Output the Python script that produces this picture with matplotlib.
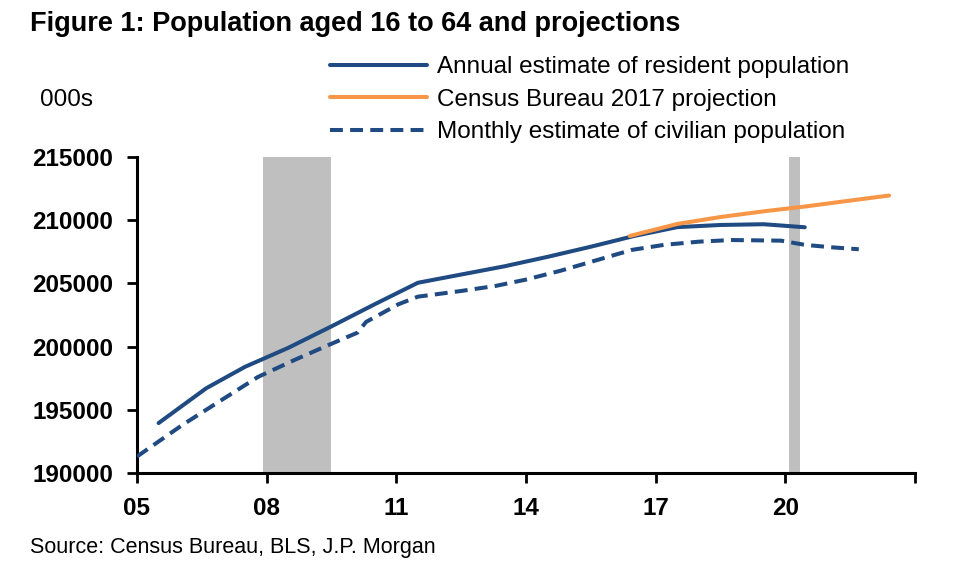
import matplotlib
matplotlib.use("Agg")
import matplotlib.pyplot as plt

# Annual estimate of resident population (000s), mid-year points
annual_x = [2005.5, 2006.6, 2007.5, 2008.5, 2009.5, 2010.5, 2011.5, 2012.5,
            2013.5, 2014.5, 2015.5, 2016.5, 2017.5, 2018.5, 2019.5, 2020.45]
annual_y = [193950, 196700, 198400, 199900, 201600, 203350, 205050, 205700,
            206350, 207100, 207900, 208750, 209450, 209620, 209680, 209440]

# Census Bureau 2017 projection
proj_x = [2016.4, 2017.5, 2018.5, 2019.5, 2020.5, 2021.5, 2022.4]
proj_y = [208750, 209700, 210250, 210700, 211100, 211550, 211950]

# Monthly estimate of civilian population (smoothed read-off)
monthly_x = [2005.0, 2006.05, 2006.9, 2007.8, 2008.65, 2009.45, 2010.1, 2010.3,
             2011.05, 2011.5, 2011.95, 2012.5, 2013.3, 2014.0, 2014.8, 2015.65,
             2016.45, 2017.2, 2018.0, 2018.75, 2019.9, 2020.45, 2021.05, 2021.7]
monthly_y = [191300, 193800, 195650, 197600, 198950, 200150, 201100, 201950,
             203350, 203950, 204150, 204400, 204800, 205300, 206000, 206850,
             207650, 208050, 208300, 208430, 208380, 208050, 207860, 207700]

recessions = [(2007.92, 2009.5), (2020.08, 2020.33)]

xticks = [2005, 2008, 2011, 2014, 2017, 2020, 2023]
xlabels = ["05", "08", "11", "14", "17", "20", ""]
yticks = [190000, 195000, 200000, 205000, 210000, 215000]

navy = "#1F4A82"
orange = "#F79646"
plt.rcParams["font.family"] = ["Liberation Sans", "DejaVu Sans"]

fig = plt.figure(figsize=(9.6, 5.75), dpi=100)
ax = fig.add_axes([0.1427, 0.1774, 0.9531 - 0.1427, 0.5496])

for a, b in recessions:
    ax.axvspan(a, b, color="#BFBFBF", lw=0, zorder=0)

ax.plot(annual_x, annual_y, color=navy, lw=2.9, solid_capstyle="round",
        label="Annual estimate of resident population", zorder=3)
ax.plot(proj_x, proj_y, color=orange, lw=2.9, solid_capstyle="round",
        label="Census Bureau 2017 projection", zorder=4)
ax.plot(monthly_x, monthly_y, color=navy, lw=2.9, ls=(0, (3.2, 1.8)),
        label="Monthly estimate of civilian population", zorder=3)

ax.set_xlim(2005, 2023)
ax.set_ylim(190000, 215000)
ax.set_xticks(xticks)
ax.set_xticklabels(xlabels)
ax.set_yticks(yticks)
ax.set_yticklabels([str(v) for v in yticks])

for s in ["top", "right"]:
    ax.spines[s].set_visible(False)
for s in ["left", "bottom"]:
    ax.spines[s].set_linewidth(2.2)
ax.tick_params(axis="both", length=7, width=2, labelsize=17.5, direction="out")
ax.tick_params(axis="x", pad=10)
ax.tick_params(axis="y", pad=10)
for lab in ax.get_xticklabels() + ax.get_yticklabels():
    lab.set_fontweight("bold")

fig.text(0.031, 0.958, "Figure 1: Population aged 16 to 64 and projections",
         fontsize=19.5, fontweight="bold", va="center", ha="left")
fig.text(0.042, 0.826, "000s", fontsize=17.5, va="center", ha="left")
fig.text(0.031, 0.048, "Source: Census Bureau, BLS, J.P. Morgan",
         fontsize=15.5, va="center", ha="left")

fig.legend(loc="upper left", bbox_to_anchor=(330 / 960, 1 - 56 / 575),
           frameon=False, fontsize=17.5, handlelength=4.0, handletextpad=0.42,
           labelspacing=0.44, borderpad=0, borderaxespad=0)

fig.savefig("out.png", dpi=100)
